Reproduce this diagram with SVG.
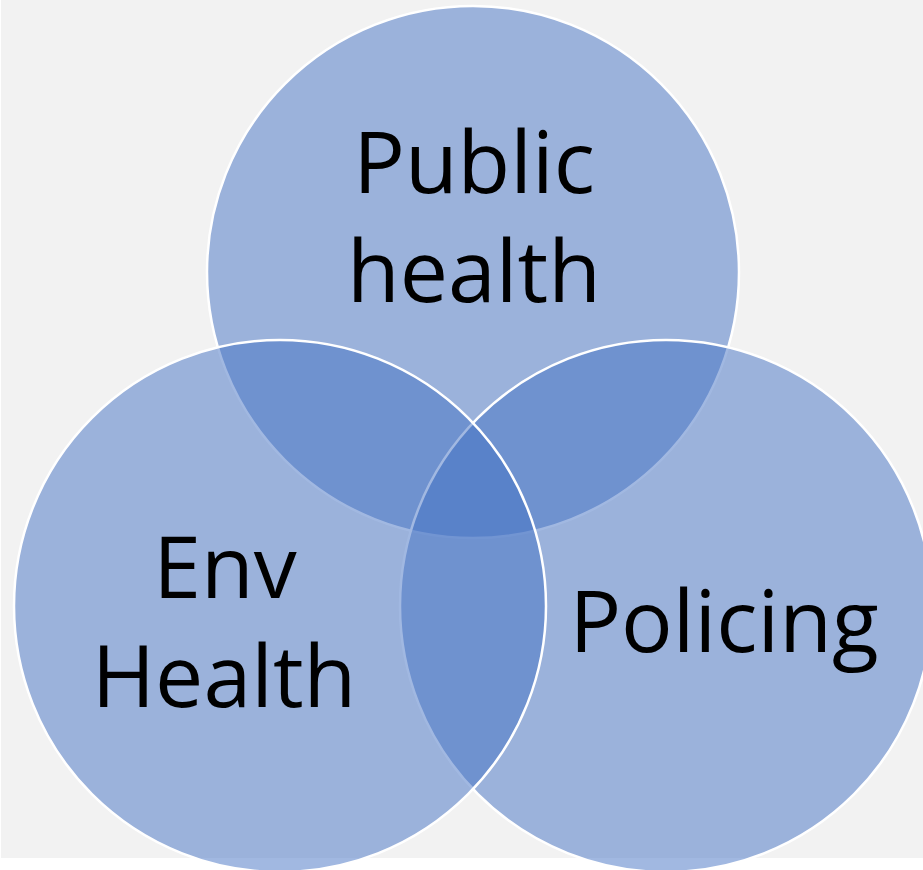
<svg xmlns="http://www.w3.org/2000/svg" width="923" height="870" viewBox="0 0 923 870">
<style>
.c{fill:#4472c4;fill-opacity:0.5;stroke:#ffffff;stroke-width:2.5}
.t{font-family:"Open Sans","Noto Sans","Liberation Sans",sans-serif;font-size:86px;fill:#000000;text-anchor:middle}
</style>
<rect x="0" y="0" width="923" height="870" fill="#ffffff"/>
<rect x="1" y="0" width="922" height="858" fill="#f2f2f2"/>
<g id="public-health">
<circle class="c" cx="473" cy="272" r="266"/>
</g>
<g id="policing">
<circle class="c" cx="666" cy="606" r="266"/>
</g>
<g id="env-health">
<circle class="c" cx="280" cy="606" r="266"/>
</g>
<g id="connectors"></g>
<g id="labels">
<text class="t" x="474" y="193">Public</text>
<text class="t" x="474" y="302">health</text>
<text class="t" x="225" y="598">Env</text>
<text class="t" x="224" y="707">Health</text>
<text class="t" x="724" y="652">Policing</text>
</g>
</svg>
